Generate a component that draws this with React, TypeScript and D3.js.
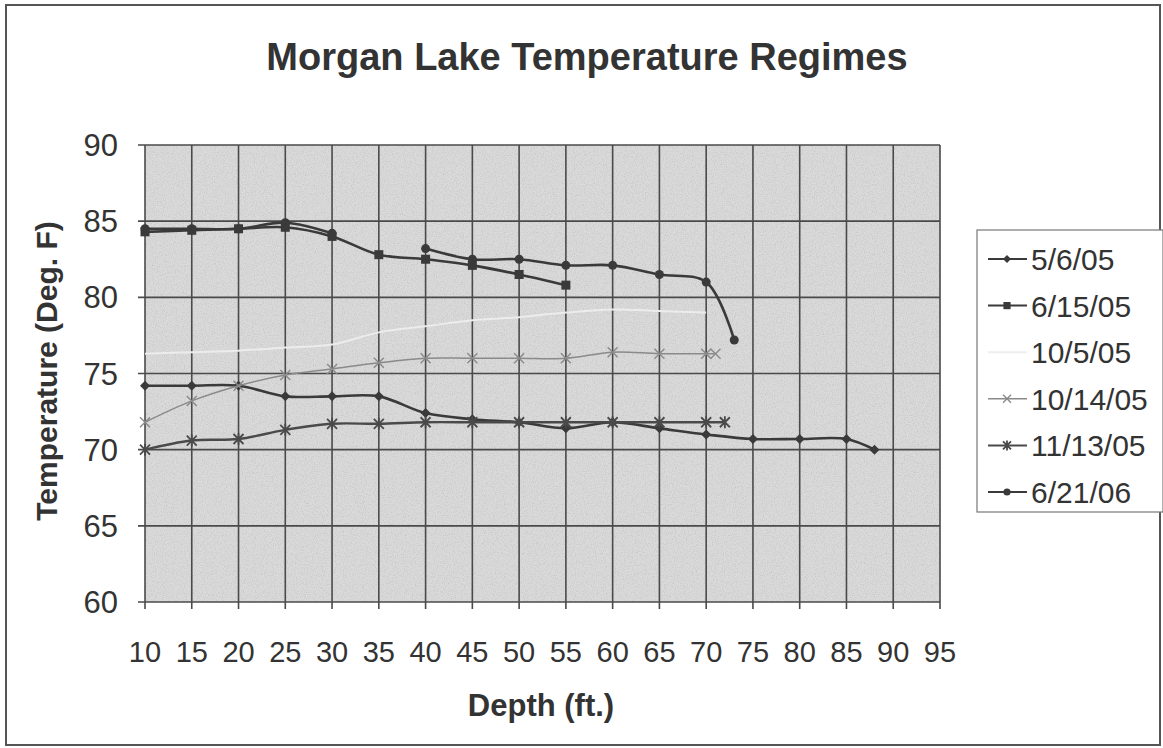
import React from 'react';
import * as d3 from 'd3';

// depth (ft.) and temperature (deg F)
const depths = [10, 15, 20, 25, 30, 35, 40, 45, 50, 55, 60, 65, 70];
const may0605 = [74.2, 74.2, 74.2, 73.5, 73.5, 73.5, 72.4, 72.0, 71.8, 71.4, 71.8, 71.4, 71.0];
const may0605Tail = [[75, 70.7], [80, 70.7], [85, 70.7], [88, 70.0]];
const jun1505Depths = [10, 15, 20, 25, 30, 35, 40, 45, 50, 55];
const jun1505 = [84.3, 84.4, 84.5, 84.6, 84.0, 82.8, 82.5, 82.1, 81.5, 80.8];
const oct0505 = [76.3, 76.4, 76.5, 76.7, 76.9, 77.7, 78.1, 78.5, 78.7, 79.0, 79.2, 79.1, 79.0];
const oct1405 = [71.8, 73.2, 74.2, 74.9, 75.3, 75.7, 76.0, 76.0, 76.0, 76.0, 76.4, 76.3, 76.3];
const oct1405Tail = [[71, 76.3]];
const nov1305 = [70.0, 70.6, 70.7, 71.3, 71.7, 71.7, 71.8, 71.8, 71.8, 71.8, 71.8, 71.8, 71.8];
const nov1305Tail = [[72, 71.8]];
// 6/21/06 has no reading at 35 ft
const jun2106 = [84.5, 84.5, 84.5, 84.9, 84.2, null, 83.2, 82.5, 82.5, 82.1, 82.1, 81.5, 81.0];
const jun2106Tail = [[73, 77.2]];

const xTicks = d3.range(10, 96, 5);
const yTicks = d3.range(60, 91, 5);

const zip = (xs, ys, tail = []) => xs.map((x, i) => [x, ys[i]]).concat(tail);

const series = [
  { name: '5/6/05', points: zip(depths, may0605, may0605Tail), color: '#3a3a3a', width: 2.6, marker: 'diamond' },
  { name: '6/15/05', points: zip(jun1505Depths, jun1505), color: '#3a3a3a', width: 2.6, marker: 'square' },
  { name: '10/5/05', points: zip(depths, oct0505), color: '#ececec', width: 2, marker: 'none' },
  { name: '10/14/05', points: zip(depths, oct1405, oct1405Tail), color: '#8a8a8a', width: 1.5, marker: 'x' },
  { name: '11/13/05', points: zip(depths, nov1305, nov1305Tail), color: '#4a4a4a', width: 2.4, marker: 'star' },
  { name: '6/21/06', points: zip(depths, jun2106, jun2106Tail), color: '#3a3a3a', width: 2.6, marker: 'circle' },
];

const W = 1163;
const H = 748;
const font = '"Liberation Sans", Arial, sans-serif';

const x = d3.scaleLinear().domain([10, 95]).range([145, 940]);
const y = d3.scaleLinear().domain([60, 90]).range([602, 145]);

const Marker = ({ kind, cx, cy, color, s = 1 }) => {
  if (kind === 'diamond') {
    return <path d={`M${cx},${cy - 5 * s}L${cx + 5 * s},${cy}L${cx},${cy + 5 * s}L${cx - 5 * s},${cy}Z`} fill={color} />;
  }
  if (kind === 'square') {
    return <rect x={cx - 4.5 * s} y={cy - 4.5 * s} width={9 * s} height={9 * s} fill={color} />;
  }
  if (kind === 'circle') {
    return <circle cx={cx} cy={cy} r={4.5 * s} fill={color} />;
  }
  if (kind === 'x') {
    const r = 5 * s;
    return <path d={`M${cx - r},${cy - r}L${cx + r},${cy + r}M${cx - r},${cy + r}L${cx + r},${cy - r}`} stroke={color} strokeWidth={1.4} />;
  }
  if (kind === 'star') {
    const r = 5 * s;
    return (
      <path
        d={`M${cx - r},${cy - r}L${cx + r},${cy + r}M${cx - r},${cy + r}L${cx + r},${cy - r}M${cx},${cy - r - 1}L${cx},${cy + r + 1}`}
        stroke={color}
        strokeWidth={1.8}
      />
    );
  }
  return null;
};

const App = () => {
  const line = d3
    .line()
    .defined((d) => d[1] != null)
    .x((d) => x(d[0]))
    .y((d) => y(d[1]))
    .curve(d3.curveCatmullRom.alpha(0.5));

  const legendY = (i) => 259 + i * 46.6;

  return (
    <svg width={W} height={H} style={{ position: 'absolute', left: 0, top: 0, background: '#fff' }} fontFamily={font}>
      <defs>
        <filter id="grain" x="0" y="0" width="100%" height="100%">
          <feTurbulence type="fractalNoise" baseFrequency="0.9" numOctaves="2" seed="4" />
          <feColorMatrix type="matrix" values="0 0 0 0 0.35  0 0 0 0 0.35  0 0 0 0 0.35  0 0 0 -2.2 1.25" />
        </filter>
      </defs>

      {/* outer frame */}
      <rect x={6} y={5} width={1154} height={740} fill="#fff" stroke="#555" strokeWidth={2} />

      <text x={587} y={70} textAnchor="middle" fontSize={38} fontWeight="bold" fill="#333">
        Morgan Lake Temperature Regimes
      </text>

      {/* plot area */}
      <rect x={x(10)} y={y(90)} width={x(95) - x(10)} height={y(60) - y(90)} fill="#dadada" />
      <rect x={x(10)} y={y(90)} width={x(95) - x(10)} height={y(60) - y(90)} filter="url(#grain)" opacity={0.35} />

      {xTicks.map((t) => (
        <line key={`gx${t}`} x1={x(t)} x2={x(t)} y1={y(90)} y2={y(60) + 7} stroke="#4a4a4a" strokeWidth={1.6} />
      ))}
      {yTicks.map((t) => (
        <line key={`gy${t}`} x1={x(10) - 7} x2={x(95)} y1={y(t)} y2={y(t)} stroke="#4a4a4a" strokeWidth={1.6} />
      ))}

      {yTicks.map((t) => (
        <text key={`ty${t}`} x={118} y={y(t) + 11} textAnchor="end" fontSize={31} fill="#333">
          {t}
        </text>
      ))}
      {xTicks.map((t) => (
        <text key={`tx${t}`} x={x(t)} y={662} textAnchor="middle" fontSize={29} fill="#333">
          {t}
        </text>
      ))}

      <text x={541} y={716} textAnchor="middle" fontSize={31} fontWeight="bold" fill="#333">
        Depth (ft.)
      </text>
      <text
        transform={`translate(57,371) rotate(-90)`}
        textAnchor="middle"
        fontSize={30}
        fontWeight="bold"
        fill="#333"
      >
        Temperature (Deg. F)
      </text>

      {series.map((s) => (
        <g key={s.name}>
          <path d={line(s.points)} fill="none" stroke={s.color} strokeWidth={s.width} />
          {s.points
            .filter((p) => p[1] != null)
            .map((p, i) => (
              <Marker key={i} kind={s.marker} cx={x(p[0])} cy={y(p[1])} color={s.color} />
            ))}
        </g>
      ))}

      {/* legend */}
      <rect x={977} y={230} width={186} height={282} fill="#fff" stroke="#777" strokeWidth={1.2} />
      {series.map((s, i) => (
        <g key={`lg${s.name}`}>
          <line x1={988} x2={1027} y1={legendY(i)} y2={legendY(i)} stroke={s.color === '#ececec' ? '#eeeeee' : s.color} strokeWidth={Math.min(s.width, 2)} />
          <Marker kind={s.marker} cx={1007} cy={legendY(i)} color={s.color} s={0.8} />
          <text x={1031} y={legendY(i) + 11} fontSize={30} fill="#333">
            {s.name}
          </text>
        </g>
      ))}
    </svg>
  );
};

export default App;
